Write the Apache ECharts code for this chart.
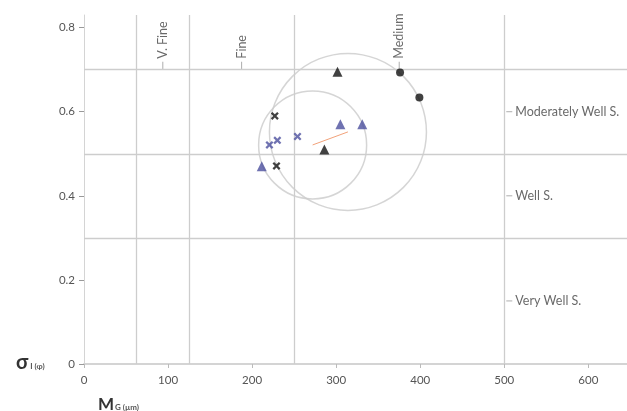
<!DOCTYPE html>
<html>
<head>
<meta charset="utf-8">
<script src="https://cdn.jsdelivr.net/npm/echarts@6/dist/echarts.min.js"></script>
<style>
html,body{margin:0;padding:0;background:#fff;}
#c{width:627px;height:411px;}
</style>
</head>
<body>
<div id="c"></div>
<script>
// ---- data ----
var xTicks = [0, 100, 200, 300, 400, 500, 600];
var yTicks = [0, 0.2, 0.4, 0.6, 0.8];
var sizeBounds = [62.5, 125, 250, 500];          // grain-size class boundaries (µm)
var sortBounds = [0.3, 0.5, 0.7];                 // sorting class boundaries (phi)
var sizeLabels = ['V. Fine', 'Fine', 'Medium'];
var sizeLabelX = [93.75, 187.5, 375];
var sortLabels = ['Moderately Well S.', 'Well S.', 'Very Well S.'];
var sortLabelY = [0.6, 0.4, 0.15];
var blackCross = [[227, 0.590], [229, 0.471]];
var blueCross = [[220.6, 0.521], [230, 0.532], [254, 0.541]];
var blueTriangle = [[211.5, 0.47], [305, 0.57], [331, 0.57]];
var blackTriangle = [[301.6, 0.695], [286, 0.51]];
var blackDot = [[376, 0.693], [399, 0.634]];
var meanCentres = [[272, 0.521], [314, 0.552]];

// ---- chart ----
var FONT = 'Lato';
var crossPath = 'path://M0,2L2,0L5,3L8,0L10,2L7,5L10,8L8,10L5,7L2,10L0,8L3,5Z';
var chart = echarts.init(document.getElementById('c'), null, {renderer: 'canvas'});
var option = {
  animation: false,
  backgroundColor: '#ffffff',
  textStyle: {fontFamily: FONT},
  grid: {left: 84, right: 0, top: 15, bottom: 47},
  title: [
    {text: '{a|σ}{b|I (φ)}', left: 11, top: 348,
     textStyle: {rich: {a: {fontSize: 20, color: '#333', fontFamily: FONT, fontWeight: 'bold'},
                        b: {fontSize: 8, color: '#555', fontFamily: FONT, padding: [6, 0, 0, 2]}}}},
    {text: '{a|M}{b|G (µm)}', left: 93, top: 391,
     textStyle: {rich: {a: {fontSize: 17, color: '#333', fontFamily: FONT},
                        b: {fontSize: 8, color: '#555', fontFamily: FONT, padding: [6, 0, 0, 1]}}}}
  ],
  xAxis: {
    type: 'value', min: 0, max: 646,
    axisLine: {show: true, onZero: false, lineStyle: {color: '#d4d4d4', width: 2}},
    axisTick: {show: true, length: 4, lineStyle: {color: '#bbb'}, customValues: xTicks},
    axisLabel: {color: '#555', fontSize: 11.5, margin: 10, fontFamily: FONT, customValues: xTicks},
    splitLine: {show: false}
  },
  yAxis: {
    type: 'value', min: 0, max: 0.83,
    axisLine: {show: true, onZero: false, lineStyle: {color: '#d4d4d4', width: 1}},
    axisTick: {show: true, inside: false, length: 5, lineStyle: {color: '#999'}, customValues: yTicks},
    axisLabel: {color: '#555', fontSize: 11.5, margin: 9, fontFamily: FONT, customValues: yTicks,
                formatter: function (v) { return String(v); }},
    splitLine: {show: false}
  },
  series: [
    {
      type: 'scatter', name: 'spread', z: 1, silent: true,
      data: [meanCentres[0]], symbol: 'circle', symbolSize: 108,
      itemStyle: {color: 'rgba(0,0,0,0)', borderColor: '#cacaca', borderWidth: 1.5},
      markLine: {
        silent: true, symbol: 'none', label: {show: false},
        lineStyle: {color: '#cdcdcd', width: 1.3, type: 'solid'},
        data: sizeBounds.map(function (v) { return {xAxis: v}; })
          .concat(sortBounds.map(function (v) { return {yAxis: v}; }))
      }
    },
    {
      type: 'scatter', name: 'spread2', z: 1, silent: true,
      data: [meanCentres[1]], symbol: 'circle', symbolSize: 157,
      itemStyle: {color: 'rgba(0,0,0,0)', borderColor: '#cacaca', borderWidth: 1.5}
    },
    {
      type: 'line', name: 'shift', z: 2, silent: true, data: meanCentres,
      symbol: 'none', lineStyle: {color: '#f2a27a', width: 1}
    },
    {
      type: 'scatter', name: 'sizeLabels', z: 2, silent: true,
      data: sizeLabelX.map(function (x, i) { return {value: [x, sortBounds[2]], name: sizeLabels[i]}; }),
      symbol: 'rect', symbolSize: [1, 8], symbolOffset: [0, -4],
      itemStyle: {color: '#999'},
      label: {show: true, position: 'top', distance: 3, rotate: 90, align: 'left', verticalAlign: 'middle',
              formatter: '{b}', color: '#444', fontSize: 12.5, fontFamily: FONT}
    },
    {
      type: 'scatter', name: 'sortLabels', z: 2, silent: true,
      data: sortLabelY.map(function (y, i) { return {value: [sizeBounds[3], y], name: sortLabels[i]}; }),
      symbol: 'rect', symbolSize: [6, 1], symbolOffset: [5, 0],
      itemStyle: {color: '#999'},
      label: {show: true, position: 'right', distance: 3,
              formatter: '{b}', color: '#444', fontSize: 12.5, fontFamily: FONT}
    },
    {
      type: 'scatter', name: 'blackCross', z: 5, data: blackCross,
      symbol: crossPath, symbolSize: 8, itemStyle: {color: '#111'}
    },
    {
      type: 'scatter', name: 'blueCross', z: 5, data: blueCross,
      symbol: crossPath, symbolSize: 8, itemStyle: {color: '#4b4f9e'}
    },
    {
      type: 'scatter', name: 'blueTriangle', z: 5, data: blueTriangle,
      symbol: 'triangle', symbolSize: 10, itemStyle: {color: '#4b4f9e'}
    },
    {
      type: 'scatter', name: 'blackTriangle', z: 5, data: blackTriangle,
      symbol: 'triangle', symbolSize: 10, itemStyle: {color: '#111'}
    },
    {
      type: 'scatter', name: 'blackDot', z: 5, data: blackDot,
      symbol: 'circle', symbolSize: 8, itemStyle: {color: '#111'}
    }
  ]
};
chart.setOption(option);
</script>
</body>
</html>
